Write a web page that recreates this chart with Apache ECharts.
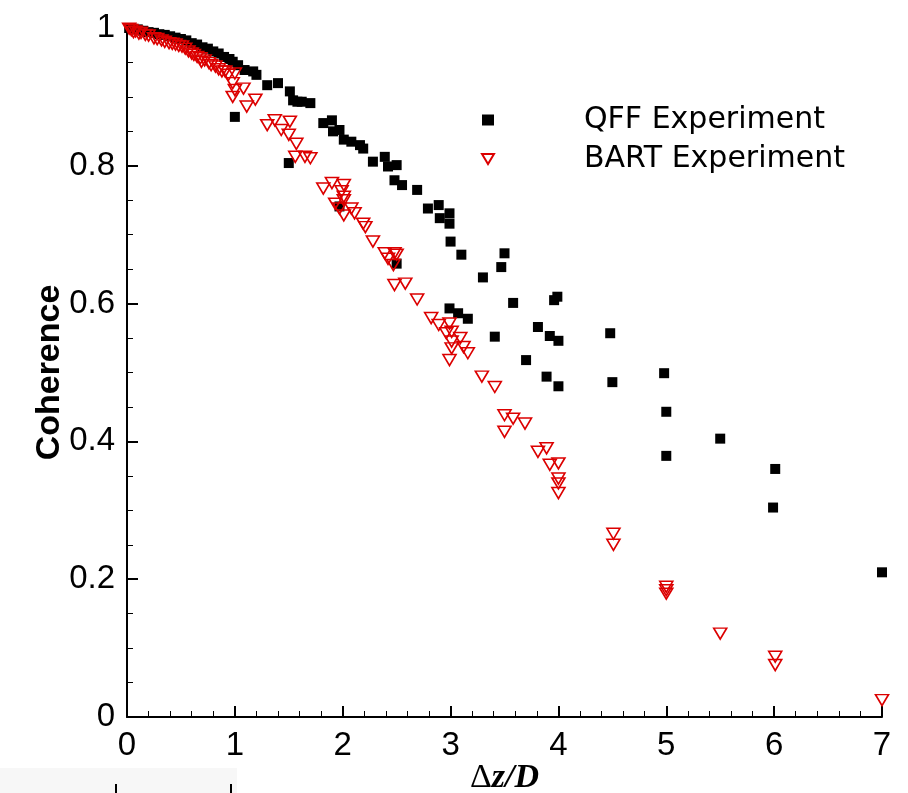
<!DOCTYPE html>
<html>
<head>
<meta charset="utf-8">
<script src="https://cdn.jsdelivr.net/npm/echarts@6/dist/echarts.min.js"></script>
<style>
  html, body { margin: 0; padding: 0; background: #ffffff; }
  #chart { width: 908px; height: 793px; }
</style>
</head>
<body>
<div id="chart"></div>
<script>
// ---- Data ----
const xTicks = [0, 1, 2, 3, 4, 5, 6, 7];
const yTicks = [0, 0.2, 0.4, 0.6, 0.8, 1];

const qffX = [0.02,0.05,0.10,0.15,0.20,0.25,0.30,0.35,0.40,0.45,0.50,0.55,0.60,0.65,0.70,0.75,0.80,0.85,0.90,
  0.95,0.98,1.03,1.09,1.17,1.20,1.30,1.40,1.51,1.54,1.58,1.62,1.70,1.00,1.50,
  1.82,1.90,1.91,1.97,2.01,2.08,2.16,2.19,1.97,
  2.28,2.39,2.42,2.50,2.48,2.55,2.69,2.50,
  2.79,2.89,2.90,2.99,2.99,3.00,3.10,3.30,
  3.50,3.47,3.58,3.96,3.99,
  2.99,3.07,3.16,3.41,3.81,3.92,4.00,3.70,3.89,4.00,
  4.48,4.50,4.98,5.00,5.00,5.50,6.01,5.99,7.00];
const qffY = [1.000,0.999,0.998,0.996,0.994,0.993,0.991,0.990,0.988,0.986,0.984,0.982,0.978,0.976,0.972,0.970,0.966,0.963,0.958,
  0.955,0.951,0.946,0.939,0.937,0.932,0.917,0.920,0.908,0.895,0.893,0.893,0.891,0.871,0.804,
  0.862,0.866,0.850,0.852,0.838,0.835,0.830,0.825,0.741,
  0.806,0.813,0.799,0.801,0.779,0.772,0.765,0.658,
  0.738,0.743,0.724,0.731,0.716,0.690,0.671,0.638,
  0.673,0.653,0.601,0.605,0.610,
  0.593,0.586,0.578,0.552,0.566,0.553,0.546,0.518,0.494,0.480,
  0.557,0.486,0.499,0.443,0.379,0.404,0.360,0.304,0.210];

const bartX = [0.02,0.04,0.06,0.08,0.11,0.13,0.17,0.20,0.25,0.28,0.32,0.35,0.39,0.42,0.45,0.48,0.51,0.54,0.57,0.60,0.62,0.65,0.68,0.69,0.72,0.76,0.78,0.82,0.85,0.88,0.91,0.94,1.00,
  0.98,1.00,0.98,1.08,1.11,1.19,
  1.30,1.37,1.43,1.51,1.50,1.57,1.56,1.65,1.70,
  1.82,1.90,2.01,1.99,2.01,2.01,1.93,1.97,2.01,2.08,2.11,2.19,2.21,
  2.28,2.39,2.48,2.50,2.47,2.42,2.48,2.58,2.69,
  2.82,2.89,2.99,2.96,3.01,3.01,3.09,3.12,3.16,3.01,2.99,
  3.29,3.41,3.50,3.58,3.69,3.50,3.81,3.89,3.92,4.00,4.00,4.00,4.00,
  4.51,4.51,5.00,5.00,5.00,5.50,6.01,6.01,7.00];
const bartY = [0.999,0.997,0.994,0.995,0.992,0.993,0.990,0.989,0.985,0.984,0.982,0.980,0.978,0.977,0.976,0.974,0.973,0.970,0.966,0.963,0.961,0.958,0.956,0.951,0.953,0.949,0.946,0.944,0.940,0.937,0.937,0.932,0.934,
  0.920,0.910,0.900,0.912,0.886,0.896,
  0.859,0.866,0.852,0.864,0.845,0.832,0.813,0.813,0.811,
  0.767,0.775,0.772,0.763,0.755,0.750,0.745,0.738,0.728,0.738,0.731,0.716,0.711,
  0.690,0.673,0.673,0.671,0.656,0.665,0.627,0.629,0.606,
  0.579,0.569,0.571,0.557,0.559,0.545,0.550,0.537,0.528,0.535,0.518,
  0.494,0.479,0.438,0.433,0.426,0.414,0.385,0.390,0.366,0.368,0.346,0.339,0.325,
  0.266,0.250,0.189,0.184,0.179,0.121,0.0875,0.0755,0.0245];

const seriesNames = ['QFF Experiment', 'BART Experiment'];
const yName = 'Coherence';

// ---- Build ----
const zip = (xs, ys) => xs.map((x, i) => [x, ys[i]]);
const tickFont = { fontFamily: 'Liberation Sans, Arial, sans-serif', fontSize: 33, color: '#000' };
const downTriangle = 'path://M0,0 L13,0 L6.5,11 Z';
const red = '#dc0000';

const chart = echarts.init(document.getElementById('chart'), null, { renderer: 'canvas' });
chart.setOption({
  backgroundColor: '#ffffff',
  animation: false,
  grid: { left: 127, right: 26, top: 28, bottom: 76, containLabel: false, outerBoundsMode: 'none' },
  legend: {
    orient: 'vertical',
    left: 476,
    top: 100,
    itemGap: 9,
    itemWidth: 12,
    itemHeight: 11,
    data: [
      { name: seriesNames[0], icon: 'rect' },
      { name: seriesNames[1], icon: downTriangle }
    ],
    formatter: n => '{g|}{t|' + n + '}',
    textStyle: {
      rich: {
        g: { width: 85 },
        t: { fontFamily: 'DejaVu Sans, sans-serif', fontSize: 30, color: '#000', lineHeight: 32 }
      }
    },
    selectedMode: false
  },
  xAxis: {
    type: 'value',
    min: xTicks[0],
    max: xTicks[xTicks.length - 1],
    interval: 1,
    name: '{d|Δ}{v|z/D}',
    nameLocation: 'middle',
    nameGap: 44,
    nameMoveOverlap: false,
    nameTextStyle: {
      color: '#000',
      rich: {
        d: { fontFamily: 'Liberation Serif, serif', fontSize: 34, color: '#000' },
        v: { fontFamily: 'Liberation Serif, serif', fontSize: 34, fontStyle: 'italic', fontWeight: 'bold', color: '#000' }
      }
    },
    axisLine: { show: true, onZero: false, lineStyle: { color: '#000', width: 2 } },
    axisTick: { show: true, inside: true, length: 11, lineStyle: { color: '#000', width: 2 } },
    minorTick: { show: true, splitNumber: 5, length: 6, lineStyle: { color: '#000', width: 1 } },
    axisLabel: Object.assign({ margin: 12 }, tickFont),
    splitLine: { show: false },
    minorSplitLine: { show: false }
  },
  yAxis: {
    type: 'value',
    min: yTicks[0],
    max: yTicks[yTicks.length - 1],
    interval: 0.2,
    name: yName,
    nameLocation: 'middle',
    nameGap: 60,
    nameMoveOverlap: false,
    nameTextStyle: {
      fontFamily: 'Liberation Sans, Arial, sans-serif',
      fontSize: 34,
      fontWeight: 'bold',
      color: '#000'
    },
    axisLine: { show: true, onZero: false, lineStyle: { color: '#000', width: 2 } },
    axisTick: { show: true, inside: true, length: 11, lineStyle: { color: '#000', width: 2 } },
    minorTick: { show: true, splitNumber: 4, length: 6, lineStyle: { color: '#000', width: 1 } },
    axisLabel: Object.assign({ margin: 12 }, tickFont),
    splitLine: { show: false },
    minorSplitLine: { show: false }
  },
  series: [
    {
      name: seriesNames[0],
      type: 'scatter',
      data: zip(qffX, qffY),
      symbol: 'rect',
      symbolSize: 10,
      itemStyle: { color: '#000000', opacity: 1 },
      z: 2
    },
    {
      name: seriesNames[1],
      type: 'scatter',
      data: zip(bartX, bartY),
      symbol: downTriangle,
      symbolSize: [13, 11],
      itemStyle: { color: 'rgba(255,255,255,0)', borderColor: red, borderWidth: 1.6, opacity: 1 },
      z: 3
    }
  ],
  graphic: [
    { type: 'rect', left: 0, top: 768, shape: { width: 237, height: 25 }, style: { fill: '#f7f7f7' }, silent: true, z: -1 },
    { type: 'line', shape: { x1: 116, y1: 784, x2: 116, y2: 793 }, style: { stroke: '#000', lineWidth: 2 }, silent: true },
    { type: 'line', shape: { x1: 231, y1: 784, x2: 231, y2: 793 }, style: { stroke: '#000', lineWidth: 2 }, silent: true }
  ]
});
</script>
</body>
</html>
